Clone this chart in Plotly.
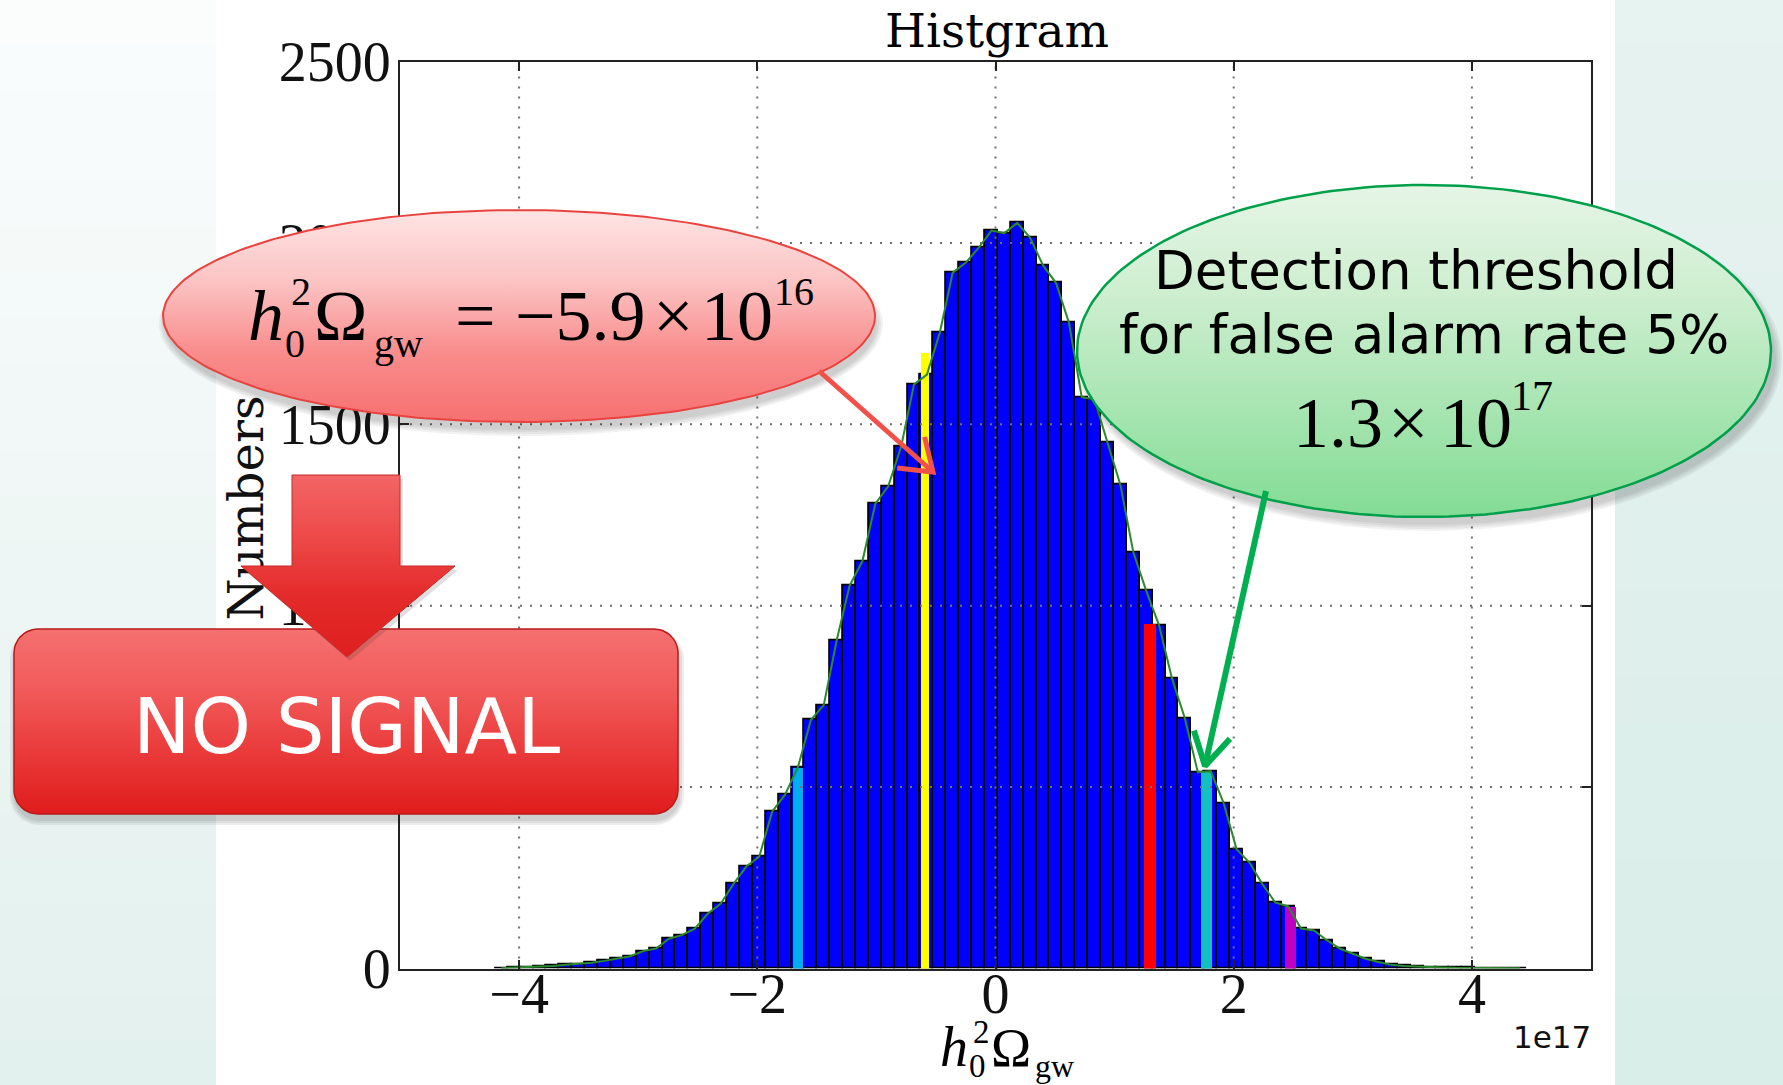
import numpy as np
import plotly.graph_objects as go

W, H = 1783, 1085

# ---------------- histogram of h0^2 Omega_gw ----------------
bin_start = -4.204e17      # left edge of the first bin
bin_width = 1.0831e16      # width of every bin
counts = [
    1, 2, 3, 5, 7, 10, 12, 16, 21, 27,
    34, 48, 55, 82, 92, 110, 151, 178, 233, 281,
    308, 432, 479, 555, 685, 726, 904, 1055, 1123, 1281,
    1329, 1438, 1610, 1637, 1753, 1918, 1945, 1986, 2034, 2027,
    2055, 2014, 1938, 1890, 1781, 1575, 1568, 1449, 1333, 1147,
    1041, 945, 799, 689, 541, 544, 456, 329, 292, 233,
    182, 171, 110, 105, 78, 55, 41, 27, 18, 10,
    7, 5, 4, 3, 2, 2, 1, 1, 1, 1,
]

measured_value = -5.9e16   # estimated h0^2 Omega_gw
threshold_value = 1.3e17   # detection threshold, 5% false alarm rate

# highlighted values drawn as coloured bars
mark_x = [-1.658e17, measured_value, threshold_value, 1.769e17, 2.477e17]
mark_counts = [555, 1699, 950, 544, 171]

x_tickvals = [-4e17, -2e17, 0.0, 2e17, 4e17]
x_ticktext = ["−4", "−2", "0", "2", "4"]
y_tickvals = [0, 500, 1000, 1500, 2000, 2500]

# ---------------- styles ----------------
mark_width = [8.9e15, 7.0e15, 1.0e16, 9.2e15, 9.2e15]
mark_color = ["#00aeef", "#ffff00", "#ff0000", "#14bfbf", "#c000c0"]
SERIF = "Liberation Serif"
SANS = "DejaVu Sans"

# plot area in pixels
PL, PR, PT, PB = 400, 1591, 61.5, 968.5

centers = bin_start + (np.arange(len(counts)) + 0.5) * bin_width

fig = go.Figure()

# histogram bars
fig.add_trace(go.Bar(
    x=centers, y=counts, width=bin_width,
    marker=dict(color="#0000ff", line=dict(color="#000000", width=1.8)),
    hoverinfo="skip", showlegend=False))

# highlighted values
fig.add_trace(go.Bar(
    x=mark_x, y=mark_counts, width=mark_width,
    marker=dict(color=mark_color, line=dict(width=0)),
    hoverinfo="skip", showlegend=False))

# outline through bin tops
fig.add_trace(go.Scatter(
    x=centers, y=counts, mode="lines",
    line=dict(color="#2b8a2b", width=2),
    hoverinfo="skip", showlegend=False))

# dotted grid drawn over the bars
gx, gy = [], []
for v in x_tickvals:
    gx += [v, v, None]
    gy += [0, 2500, None]
for v in y_tickvals[1:-1]:
    gx += [-5e17, 5e17, None]
    gy += [v, v, None]
fig.add_trace(go.Scatter(
    x=gx, y=gy, mode="lines",
    line=dict(color="#707070", width=2, dash="2px,8px"),
    hoverinfo="skip", showlegend=False))


# ---------------- callout overlay (pixel coordinates) ----------------
def px(xs, ys, **kw):
    return go.Scatter(x=list(xs), y=list(ys), xaxis="x2", yaxis="y2",
                      hoverinfo="skip", showlegend=False, **kw)


def ellipse(cx, cy, rx, ry, n=240):
    t = np.linspace(0, 2 * np.pi, n)
    return cx + rx * np.cos(t), cy + ry * np.sin(t)


def rounded_rect(x0, y0, x1, y1, r, n=14):
    xs, ys = [], []
    for cx, cy, a0, a1 in [(x1 - r, y0 + r, -90, 0), (x1 - r, y1 - r, 0, 90),
                           (x0 + r, y1 - r, 90, 180), (x0 + r, y0 + r, 180, 270)]:
        a = np.radians(np.linspace(a0, a1, n))
        xs += list(cx + r * np.cos(a))
        ys += list(cy + r * np.sin(a))
    return xs + [xs[0]], ys + [ys[0]]


def gradient_shape(xs, ys, top, bottom, colors, line_color, line_width):
    scale = [[i / (len(colors) - 1), c] for i, c in enumerate(colors)]
    return px(xs, ys, mode="lines", fill="toself",
              line=dict(color=line_color, width=line_width),
              fillgradient=dict(type="vertical", colorscale=scale,
                                start=top, stop=bottom))


def shadow(make, dx, dy, grows, alpha):
    out = []
    for g in grows:
        xs, ys = make(g)
        out.append(px(np.asarray(xs) + dx, np.asarray(ys) + dy, mode="lines",
                      fill="toself", fillcolor=f"rgba(40,40,40,{alpha})",
                      line=dict(width=0)))
    return out


def arrow(x0, y0, x1, y1, color, width, ang, length):
    d = np.array([x0 - x1, y0 - y1], dtype=float)
    d /= np.hypot(*d)
    arms = []
    for s in (1, -1):
        a = np.radians(ang * s)
        r = np.array([d[0] * np.cos(a) - d[1] * np.sin(a),
                      d[0] * np.sin(a) + d[1] * np.cos(a)])
        arms.append((x1 + r[0] * length, y1 + r[1] * length))
    return [
        px([x0, x1], [y0, y1], mode="lines", line=dict(color=color, width=width)),
        px([arms[0][0], x1, arms[1][0]], [arms[0][1], y1, arms[1][1]],
           mode="lines", line=dict(color=color, width=width)),
    ]


# y-axis label, kept under the callouts
fig.add_trace(go.Bar(
    x=[246], y=[-226], base=[621], width=[70], xaxis="x2", yaxis="y2",
    text=["Numbers"], textposition="inside", textangle=-90,
    insidetextanchor="middle", constraintext="none",
    insidetextfont=dict(family="DejaVu Serif", size=48, color="#111111"),
    marker=dict(color="rgba(0,0,0,0)", line=dict(width=0)),
    hoverinfo="skip", showlegend=False))

# red bubble
RC = (519, 316, 356, 106)
for t in shadow(lambda g: ellipse(RC[0], RC[1], RC[2] + g, RC[3] + g), 2, 8, (6, 4, 2, 0), 0.06):
    fig.add_trace(t)
ex, ey = ellipse(*RC)
fig.add_trace(gradient_shape(ex, ey, RC[1] - RC[3], RC[1] + RC[3],
                             ["#fee4e4", "#fcc4c4", "#f98d8d", "#f77070"], "#e8443f", 2))
for t in arrow(819, 371, 933, 472, "#f2514b", 5, 35, 36):
    fig.add_trace(t)

# green bubble
GC = (1424, 351, 347, 166)
for t in shadow(lambda g: ellipse(GC[0], GC[1], GC[2] + g, GC[3] + g), 5, 8, (6, 4, 2, 0), 0.06):
    fig.add_trace(t)
ex, ey = ellipse(*GC)
fig.add_trace(gradient_shape(ex, ey, GC[1] - GC[3], GC[1] + GC[3],
                             ["#e6f5e6", "#cdeecf", "#a8e5b2", "#82dc94"], "#00a04a", 2.5))
for t in arrow(1266, 491, 1205, 766, "#00b050", 6, 30, 37):
    fig.add_trace(t)

# "NO SIGNAL" box
BOX = (14, 629, 678, 814, 24)
for t in shadow(lambda g: rounded_rect(BOX[0] - g, BOX[1] - g, BOX[2] + g, BOX[3] + g, BOX[4] + g),
                1, 6, (5, 3, 1), 0.08):
    fig.add_trace(t)
bx, by = rounded_rect(*BOX)
fig.add_trace(gradient_shape(bx, by, BOX[1], BOX[3],
                             ["#f57070", "#f15a5a", "#ea3a3a", "#e01c1c"], "#b81a1a", 1.5))

# block arrow pointing at the box
ax_ = [292, 400, 400, 455, 347, 241, 292, 292]
ay_ = [475, 475, 566, 566, 657, 566, 566, 475]
for t in shadow(lambda g: (ax_, ay_), 3, 4, (0,), 0.15):
    fig.add_trace(t)
fig.add_trace(gradient_shape(ax_, ay_, 475, 657,
                             ["#f36565", "#ee4a4a", "#e42a2a", "#de1f1f"], "#c42a2a", 1))


# ---------------- text ----------------
def label(x, y, text, size, family=SERIF, color="#000000", xanchor="left"):
    return dict(x=x, y=y, xref="x2", yref="y2", text=text, showarrow=False,
                xanchor=xanchor, yanchor="middle",
                font=dict(size=size, family=family, color=color))


def mid(baseline, size, k=0.34):
    return baseline - k * size


meas = measured_value / 1e16
thr = threshold_value / 1e17
sign = "−" if meas < 0 else ""

annotations = [
    label(997, mid(47, 47, 0.346), "Histgram", 47, "DejaVu Serif", xanchor="center"),
    label(1593, mid(1048, 31, 0.346), "1e17", 31, SANS, color="#111111", xanchor="right"),
    # x-axis label
    label(938, mid(1066, 56), "<i>h</i>", 56),
    label(971, mid(1043, 33), "2", 33),
    label(967, mid(1077, 33), "0", 33),
    label(989, mid(1066, 54), "Ω", 54),
    label(1033, mid(1077, 32), "gw", 32),
    # measured value
    label(246, mid(340, 72), "<i>h</i>", 72),
    label(289, mid(305, 40), "2", 40),
    label(283, mid(357, 40), "0", 40),
    label(312, mid(340, 72), "Ω", 72),
    label(372, mid(357, 40), "gw", 40),
    label(453, mid(340, 72), "=", 72),
    label(513, mid(340, 72), f"{sign}{abs(meas):.1f}", 72),
    label(651, mid(340, 72), "×", 72),
    label(699, mid(340, 72), "10", 72),
    label(772, mid(305, 40), "16", 40),
    # threshold
    label(1416, mid(289, 53, 0.346), "Detection threshold", 53, SANS, xanchor="center"),
    label(1424, mid(353, 53, 0.346), "for false alarm rate 5%", 53, SANS, xanchor="center"),
    label(1291, mid(447, 72), f"{thr:.1f}", 72),
    label(1386, mid(447, 72), "×", 72),
    label(1438, mid(447, 72), "10", 72),
    label(1509, mid(410, 42), "17", 42),
    # box caption
    label(346, mid(753, 77, 0.346), "NO SIGNAL", 77, SANS, color="#ffffff", xanchor="center"),
]

# ---------------- page background ----------------
shapes = []


def band_shapes(x0, x1, c_top, c_bot, n=24):
    t0 = np.array([int(c_top[i:i + 2], 16) for i in (1, 3, 5)], dtype=float)
    t1 = np.array([int(c_bot[i:i + 2], 16) for i in (1, 3, 5)], dtype=float)
    out = []
    for i in range(n):
        f = i / (n - 1)
        c = t0 + (t1 - t0) * f
        out.append(dict(type="rect", xref="paper", yref="paper", layer="below",
                        x0=x0 / W, x1=x1 / W,
                        y0=1 - (i + 1) / n - 0.002, y1=1 - i / n,
                        fillcolor="rgb(%d,%d,%d)" % tuple(c), line=dict(width=0)))
    return out


shapes += band_shapes(0, 216, "#fbfdfd", "#e3f1ee")
shapes += band_shapes(1615, W, "#e7f3f0", "#daeee9")

axis_common = dict(
    ticks="inside", ticklen=9, tickwidth=1.5, tickcolor="#222222",
    showline=True, linecolor="#222222", linewidth=2, mirror="ticks",
    showgrid=False, zeroline=False, fixedrange=True, automargin=False,
    tickfont=dict(family=SERIF, size=56, color="#111111"),
)

fig.update_layout(
    width=W, height=H,
    margin=dict(l=0, r=0, t=0, b=0, pad=0, autoexpand=False),
    paper_bgcolor="#ffffff", plot_bgcolor="rgba(0,0,0,0)",
    barmode="overlay", bargap=0, showlegend=False,
    xaxis=dict(domain=[PL / W, PR / W], range=[-5e17, 5e17], anchor="y",
               tickmode="array", tickvals=x_tickvals, ticktext=x_ticktext,
               ticklabelstandoff=-25, **axis_common),
    yaxis=dict(domain=[1 - PB / H, 1 - PT / H], range=[0, 2500], anchor="x",
               tickmode="array", tickvals=y_tickvals,
               ticktext=[str(v) for v in y_tickvals],
               ticklabelstandoff=-4, **axis_common),
    xaxis2=dict(domain=[0, 1], range=[0, W], anchor="y2", visible=False,
                fixedrange=True, automargin=False),
    yaxis2=dict(domain=[0, 1], range=[H, 0], anchor="x2", visible=False,
                fixedrange=True, automargin=False),
    shapes=shapes,
    annotations=annotations,
)

fig.write_html("out.html")
